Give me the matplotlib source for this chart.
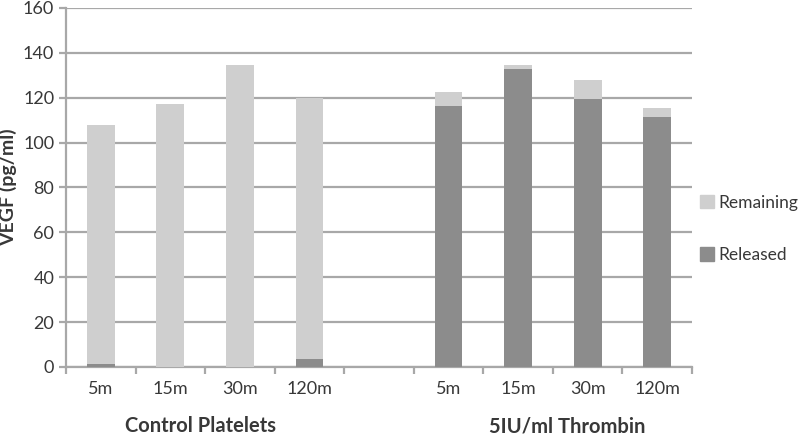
import matplotlib.pyplot as plt
import numpy as np
from matplotlib.patches import Patch

# Data (pg/ml)
tick_labels = ['5m', '15m', '30m', '120m', '', '5m', '15m', '30m', '120m']
released = [1.2, 0, 0, 3.5, 0, 116.2, 132.8, 119.5, 111.4]
remaining = [106.6, 117.3, 134.4, 116.3, 0, 6.2, 1.7, 8.2, 4.1]
groups = ['Control Platelets', '5IU/ml Thrombin']
group_pos = [1.43, 6.7]

light = '#cfcfcf'
dark = '#8c8c8c'
grid_col = '#a8a8a8'
text_col = '#383838'

plt.rcParams['font.family'] = ['Lato', 'DejaVu Sans']

fig = plt.figure(figsize=(8, 4.4), dpi=100)
ax = fig.add_axes([0.0825, 0.166, 0.7825, 0.816])

x = np.arange(len(tick_labels))
ax.bar(x, released, width=0.4, color=dark, zorder=3, label='Released')
ax.bar(x, remaining, width=0.4, bottom=released, color=light, zorder=3, label='Remaining')

ax.set_xlim(-0.5, len(tick_labels) - 0.5)
ax.set_ylim(0, 160)
ax.set_yticks(np.arange(0, 161, 20))
ax.yaxis.grid(True, color=grid_col, linewidth=1.6, zorder=0)
ax.set_axisbelow(True)

for s in ['top', 'right']:
    ax.spines[s].set_visible(False)
for s in ['left', 'bottom']:
    ax.spines[s].set_color(grid_col)
    ax.spines[s].set_linewidth(1.6)

ax.set_xticks(x)
ax.set_xticklabels(tick_labels)
ax.set_xticks(np.arange(-0.5, len(tick_labels)), minor=True)
ax.tick_params(axis='x', which='major', length=0, pad=10, labelsize=13, labelcolor=text_col)
ax.tick_params(axis='x', which='minor', length=5, width=1.6, color=grid_col)
ax.tick_params(axis='y', length=5, width=1.6, color=grid_col, labelsize=13, labelcolor=text_col)

ax.set_ylabel('VEGF (pg/ml)', fontsize=14, fontweight='bold', color=text_col, labelpad=4)

for name, pos in zip(groups, group_pos):
    ax.text(pos, -0.165, name, transform=ax.get_xaxis_transform(), ha='center', va='center',
            fontsize=14.5, fontweight='bold', color=text_col)

handles = [Patch(color=light, label='Remaining'), Patch(color=dark, label='Released')]
fig.legend(handles=handles, loc='center left', bbox_to_anchor=(0.866, 0.48), frameon=False,
           fontsize=12.5, labelspacing=2.1, handlelength=0.8, handleheight=0.8, handletextpad=0.3,
           borderaxespad=0.0, labelcolor=text_col)

fig.savefig('out.png', dpi=100)
